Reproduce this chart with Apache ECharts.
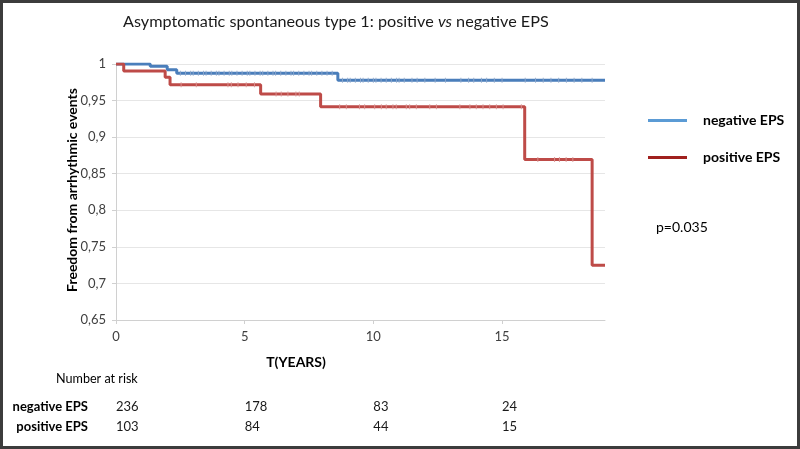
<!DOCTYPE html>
<html>
<head>
<meta charset="utf-8">
<script src="https://cdn.jsdelivr.net/npm/echarts@6/dist/echarts.min.js"></script>
<style>
html,body{margin:0;padding:0;background:#fff;}
#c{width:800px;height:449px;}
</style>
</head>
<body>
<div id="c"></div>
<script>
// ---- data ----
const negT = [0, 1.33, 1.99, 2.36, 8.62, 19];
const negS = [1, 0.9968, 0.9923, 0.9873, 0.9777, 0.9777];
const posT = [0, 0.30, 1.91, 2.10, 5.62, 7.95, 15.88, 18.5, 19];
const posS = [1, 0.9905, 0.9818, 0.9718, 0.9591, 0.9414, 0.8695, 0.725, 0.725];
const negCensor = [2.5,2.7,2.9,3.0,3.2,3.4,3.5,3.7,3.9,4.0,4.2,4.4,4.5,4.7,4.9,5.1,5.2,5.4,5.6,5.7,5.9,6.1,6.2,6.4,6.6,6.8,6.9,7.1,7.3,7.5,7.6,7.8,8.0,8.2,8.4,
  8.8,9.0,9.1,9.3,9.5,9.6,9.8,10.0,10.1,10.3,10.5,10.7,10.9,11.0,11.2,11.5,11.7,12.0,12.4,12.8,13.4,13.7,13.9,14.2,14.4,14.7,15.0,15.9,16.3,16.6,16.9,17.2,17.5,17.8,18.1,18.5];
const posCensor = [2.53,3.12,4.35,4.48,4.74,5.06,5.38,6.22,6.42,6.68,6.99,7.12,8.69,8.95,9.46,9.66,10.05,10.31,10.5,10.76,10.89,11.28,11.41,11.67,12.19,12.45,13.36,13.75,14.0,14.26,14.52,14.78,15.04,15.75,16.39,17.04,17.23,17.49,17.75];
const riskTimes = [0, 5, 10, 15];
const negRisk = [236, 178, 83, 24];
const posRisk = [103, 84, 44, 15];
const xTicks = [0, 5, 10, 15];
const seriesNames = ['negative EPS', 'positive EPS'];
const pValue = 'p=0.035';

// ---- helpers ----
function pairs(t, s) { return t.map((v, i) => [v, s[i]]); }
function survAt(t, T, S) {
  let v = S[0];
  for (let i = 0; i < T.length; i++) { if (T[i] <= t) v = S[i]; }
  return v;
}
const FONT = 'Lato, "Open Sans", sans-serif';
const blueLine = '#4a7ebb', redLine = '#be4b48';
const blueLeg = '#5b9bd5', redLeg = '#a0201e';

const chart = echarts.init(document.getElementById('c'), null, {renderer: 'canvas'});
const option = {
  animation: false,
  backgroundColor: '#fff',
  textStyle: {fontFamily: FONT},
  grid: {left: 116, right: 195, top: 64, bottom: 129, containLabel: false},
  xAxis: {
    type: 'value', min: 0, max: 19, interval: 5,
    axisLine: {show: true, lineStyle: {color: '#d0d0d0', width: 1}},
    axisTick: {show: true, length: 4, customValues: xTicks, lineStyle: {color: '#d0d0d0'}},
    axisLabel: {customValues: xTicks, margin: 10, fontSize: 13, color: '#404040', fontFamily: FONT},
    splitLine: {show: false}
  },
  yAxis: {
    type: 'value', min: 0.65, max: 1, interval: 0.05,
    axisLine: {show: true, lineStyle: {color: '#d0d0d0', width: 1}},
    axisTick: {show: true, length: 4, lineStyle: {color: '#d0d0d0'}},
    axisLabel: {
      margin: 10, fontSize: 13, color: '#404040', fontFamily: FONT,
      formatter: v => String(Number(v.toFixed(2))).replace('.', ',')
    },
    splitLine: {show: true, lineStyle: {color: '#e6e6e6', width: 1}}
  },
  series: [
    {name: seriesNames[0], type: 'line', step: 'end', showSymbol: false,
     data: pairs(negT, negS), lineStyle: {color: blueLine, width: 3}, z: 3},
    {name: seriesNames[1], type: 'line', step: 'end', showSymbol: false,
     data: pairs(posT, posS), lineStyle: {color: redLine, width: 3}, z: 4},
    {type: 'scatter', symbol: 'rect', symbolSize: [1, 5], silent: true,
     data: negCensor.map(t => [t, survAt(t, negT, negS)]),
     itemStyle: {color: '#8fa8cc', opacity: 0.9}, z: 5},
    {type: 'scatter', symbol: 'rect', symbolSize: [1, 5], silent: true,
     data: posCensor.map(t => [t, survAt(t, posT, posS)]),
     itemStyle: {color: '#d99593', opacity: 0.9}, z: 6}
  ]
};
chart.setOption(option);

// ---- graphics: title, labels, legend, risk table, frame ----
const g = [];
g.push({type: 'text', x: 123, y: 22, style: {
  text: '{n|Asymptomatic spontaneous type 1: positive }{i|vs}{n| negative EPS}',
  verticalAlign: 'middle',
  rich: {
    n: {fontSize: 16.2, fontFamily: FONT, fill: '#1a1a1a'},
    i: {fontSize: 16.2, fontFamily: FONT, fontStyle: 'italic', fill: '#1a1a1a'}
  }
}});
g.push({type: 'text', x: 72.5, y: 190, rotation: Math.PI / 2, style: {
  text: 'Freedom from arrhythmic events', fontSize: 14, fontWeight: 'bold', fontFamily: FONT,
  fill: '#000', align: 'center', verticalAlign: 'middle'
}});
g.push({type: 'text', x: 296, y: 362, style: {
  text: 'T(YEARS)', fontSize: 14, fontWeight: 'bold', fontFamily: FONT,
  fill: '#000', align: 'center', verticalAlign: 'middle'
}});
// legend
const legY = [120.5, 157.5], legC = [blueLeg, redLeg];
seriesNames.forEach((nm, i) => {
  g.push({type: 'line', shape: {x1: 648, y1: legY[i], x2: 687, y2: legY[i]}, style: {stroke: legC[i], lineWidth: 3}});
  g.push({type: 'text', x: 703, y: legY[i], style: {
    text: nm, fontSize: 14, fontWeight: 'bold', fontFamily: FONT, fill: '#000',
    align: 'left', verticalAlign: 'middle'
  }});
});
g.push({type: 'text', x: 656, y: 227, style: {
  text: pValue, fontSize: 14, fontFamily: FONT, fill: '#000', align: 'left', verticalAlign: 'middle'
}});
// risk table
g.push({type: 'text', x: 56, y: 379, style: {
  text: 'Number at risk', fontSize: 12.6, fontFamily: FONT, fill: '#000', align: 'left', verticalAlign: 'middle'
}});
const rowY = [407, 427];
const rows = [negRisk, posRisk];
seriesNames.forEach((nm, r) => {
  g.push({type: 'text', x: 88, y: rowY[r], style: {
    text: nm, fontSize: 13, fontWeight: 'bold', fontFamily: FONT, fill: '#000', align: 'right', verticalAlign: 'middle'
  }});
  riskTimes.forEach((t, k) => {
    const px = chart.convertToPixel({xAxisIndex: 0}, t);
    g.push({type: 'text', x: px, y: rowY[r], style: {
      text: String(rows[r][k]), fontSize: 13, fontFamily: FONT, fill: '#1a1a1a', align: 'left', verticalAlign: 'middle'
    }});
  });
});
// frame
g.push({type: 'rect', shape: {x: 1.5, y: 1.5, width: 797, height: 446}, style: {fill: 'none', stroke: '#3c3c3c', lineWidth: 3}, z: 100});
chart.setOption({graphic: g});
</script>
</body>
</html>
